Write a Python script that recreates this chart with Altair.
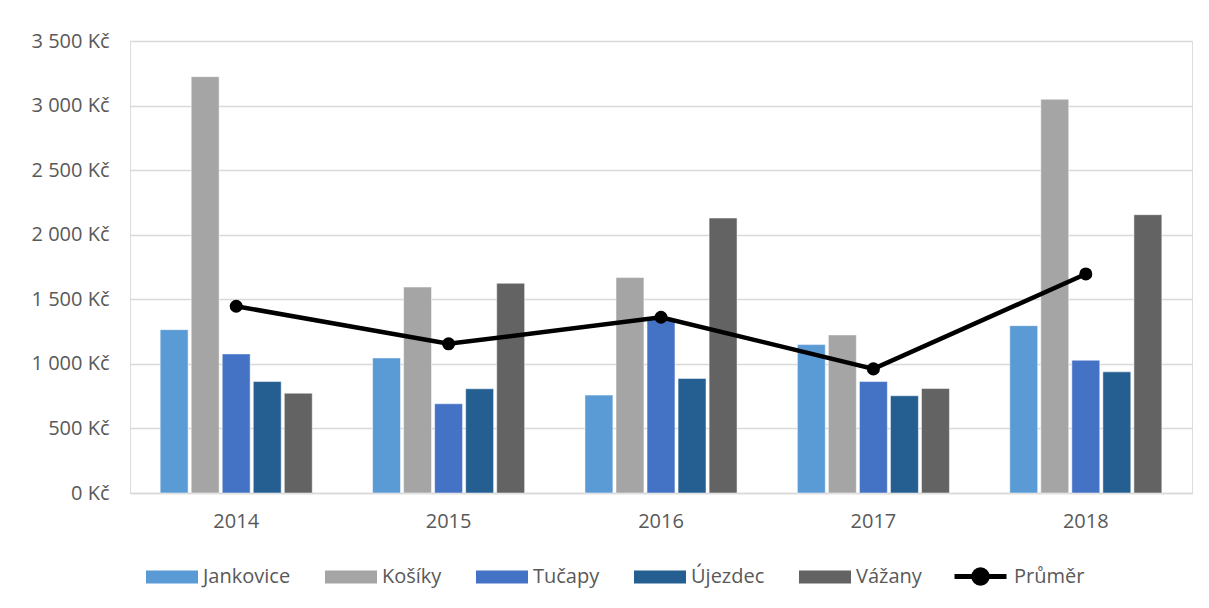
import altair as alt
import pandas as pd

years = ["2014", "2015", "2016", "2017", "2018"]
series = ["Jankovice", "Košíky", "Tučapy", "Újezdec", "Vážany"]
jankovice = [1265, 1046, 758, 1149, 1296]
kosiky = [3224, 1595, 1668, 1224, 3049]
tucapy = [1077, 691, 1345, 863, 1028]
ujezdec = [863, 807, 887, 753, 938]
vazany = [773, 1624, 2129, 809, 2155]
prumer = [1446, 1155, 1361, 961, 1696]
colors = ["#5B9BD5", "#A5A5A5", "#4472C4", "#255E91", "#636363"]

values = [jankovice, kosiky, tucapy, ujezdec, vazany]
rows = []
for s, vals in zip(series, values):
    for y, v in zip(years, vals):
        rows.append({"year": y, "series": s, "value": v})
bars_df = pd.DataFrame(rows)
line_df = pd.DataFrame({"year": years, "series": ["Průměr"] * 5, "value": prumer})

FONT = "Open Sans"
TXT = "#595959"
FS = 20

x_enc = alt.X("year:N", sort=years, title=None,
              scale=alt.Scale(paddingInner=0.284, paddingOuter=0.142),
              axis=alt.Axis(labelAngle=0, ticks=False, domain=True, domainColor="#d9d9d9",
                            domainWidth=1.5, labelPadding=18, labelFontSize=FS,
                            labelColor=TXT, labelFont=FONT, grid=False))
y_enc = alt.Y("value:Q", title=None,
              scale=alt.Scale(domain=[0, 3500], nice=False),
              axis=alt.Axis(values=[0, 500, 1000, 1500, 2000, 2500, 3000, 3500],
                            labelExpr="replace(format(datum.value, ','), ',', ' ') + ' Kč'",
                            ticks=False, domain=False, gridColor="#d9d9d9", gridWidth=1.5,
                            labelPadding=21, labelFontSize=FS, labelColor=TXT, labelFont=FONT))

bars = alt.Chart(bars_df).mark_bar(stroke="white", strokeWidth=0.5).encode(
    x=x_enc,
    y=y_enc,
    xOffset=alt.XOffset("series:N", sort=series, scale=alt.Scale(paddingInner=0.1, paddingOuter=0)),
    fill=alt.Fill("series:N", sort=series,
                  scale=alt.Scale(domain=series, range=colors),
                  legend=alt.Legend(title=None, orient="none", legendX=16, legendY=510,
                                    direction="horizontal", columns=5, columnPadding=34,
                                    symbolType="M-1,-0.25H1V0.25H-1Z", symbolSize=2704,
                                    symbolStrokeWidth=0, labelFontSize=FS, labelColor=TXT,
                                    labelFont=FONT, labelOffset=5)),
)

line = alt.Chart(line_df).mark_line(strokeWidth=4.5).encode(
    x=alt.X("year:N", sort=years),
    y=alt.Y("value:Q"),
    stroke=alt.Stroke("series:N", scale=alt.Scale(domain=["Průměr"], range=["black"]),
                      legend=alt.Legend(title=None, orient="none", legendX=822, legendY=507,
                                        symbolType="M-1,0H1M-0.26,0A0.26,0.26 0 1,1 0.26,0A0.26,0.26 0 1,1 -0.26,0Z",
                                        symbolSize=2704, symbolFillColor="black",
                                        symbolStrokeColor="black", symbolStrokeWidth=5,
                                        labelFontSize=FS, labelColor=TXT, labelFont=FONT,
                                        labelOffset=5)),
)

points = alt.Chart(line_df).mark_point(filled=True, size=170, opacity=1, color="black").encode(
    x=alt.X("year:N", sort=years),
    y=alt.Y("value:Q"),
)

chart = alt.layer(bars, line, points).properties(
    width=1062, height=452,
    padding={"left": 122, "top": 33, "right": 9, "bottom": 107},
    autosize=alt.AutoSizeParams(type="none"),
).configure_view(stroke=None).configure(font=FONT)

chart.save("out.html", embed_options={"renderer": "svg", "actions": False})
